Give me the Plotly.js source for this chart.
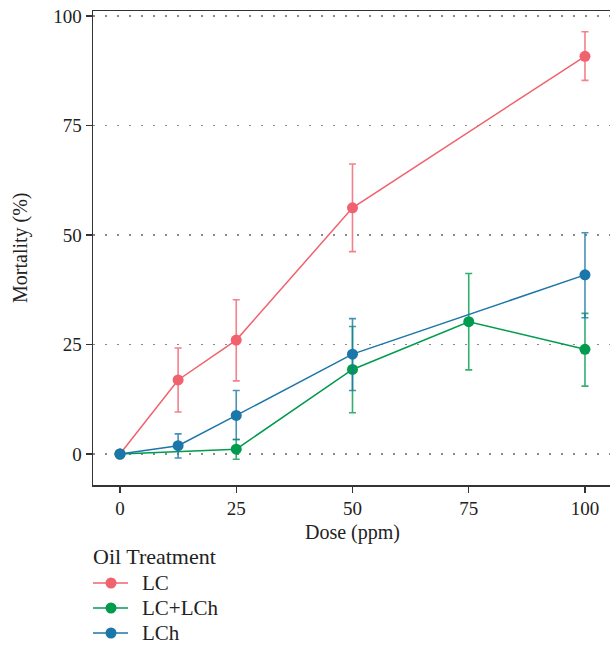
<!DOCTYPE html>
<html>
<head>
<meta charset="utf-8">
<script src="https://cdn.plot.ly/plotly-3.0.1.min.js"></script>
<style>
  html, body { margin: 0; padding: 0; background: #fff; }
  #chart { width: 610px; height: 648px; }
</style>
</head>
<body>
<div id="chart"></div>
<script>
// Mortality (%) by dose (ppm) for each oil treatment, mean with error range
const seriesNames = ["LC", "LC+LCh", "LCh"];
const seriesColors = ["#F0626E", "#009B4E", "#1B76A9"];
const legendTitle = "Oil Treatment";

const doseLC = [0, 12.5, 25, 50, 100];
const mortLC = [0, 16.9, 26.0, 56.2, 90.8];
const errUpLC = [0, 7.3, 9.2, 10.0, 5.6];
const errDownLC = [0, 7.3, 9.3, 10.0, 5.5];

const doseMix = [0, 25, 50, 75, 100];
const mortMix = [0, 1.1, 19.3, 30.2, 23.9];
const errUpMix = [0, 2.2, 9.8, 11.0, 8.2];
const errDownMix = [0, 2.3, 9.9, 11.0, 8.4];

const doseLCh = [0, 12.5, 25, 50, 100];
const mortLCh = [0, 1.9, 8.8, 22.8, 40.9];
const errUpLCh = [0, 2.7, 5.7, 8.1, 9.6];
const errDownLCh = [0, 2.8, 5.5, 8.3, 9.8];

const xTickVals = [0, 25, 50, 75, 100];
const yTickVals = [0, 25, 50, 75, 100];

const FONT = "Liberation Serif, Times New Roman, serif";
const TEXT = "#222";

// plot area geometry in pixels (used to place the key below the panel)
const PLOT_L = 93, PLOT_W = 517, PLOT_T = 11, PLOT_H = 474;
const px2x = px => (px - PLOT_L) / PLOT_W;
const px2y = py => (PLOT_T + PLOT_H - py) / PLOT_H;

function fade(hex, a) {
  const n = parseInt(hex.slice(1), 16);
  return `rgba(${(n >> 16) & 255},${(n >> 8) & 255},${n & 255},${a})`;
}

function makeTrace(name, color, x, y, up, down) {
  return {
    type: "scatter",
    mode: "lines+markers",
    name: name,
    x: x,
    y: y,
    line: { color: color, width: 1.5 },
    marker: { color: color, size: 11 },
    error_y: {
      type: "data",
      symmetric: false,
      array: up,
      arrayminus: down,
      color: fade(color, 0.8),
      thickness: 1.6,
      width: 3.5
    }
  };
}

const data = [
  makeTrace(seriesNames[0], seriesColors[0], doseLC, mortLC, errUpLC, errDownLC),
  makeTrace(seriesNames[1], seriesColors[1], doseMix, mortMix, errUpMix, errDownMix),
  makeTrace(seriesNames[2], seriesColors[2], doseLCh, mortLCh, errUpLCh, errDownLCh)
];

// key below the panel: title, then a line-and-dot sample with its label per series
const annotations = [
  {
    text: "Mortality (%)", xref: "paper", yref: "paper",
    x: px2x(20), y: 0.5, xanchor: "center", yanchor: "middle",
    textangle: -90, showarrow: false,
    font: { family: FONT, size: 20, color: TEXT }
  },
  {
    text: "Dose (ppm)", xref: "paper", yref: "paper",
    x: px2x(352), y: px2y(532), xanchor: "center", yanchor: "middle",
    showarrow: false,
    font: { family: FONT, size: 20, color: TEXT }
  },
  {
    text: legendTitle, xref: "paper", yref: "paper",
    x: px2x(91), y: px2y(556), xanchor: "left", yanchor: "middle",
    showarrow: false,
    font: { family: FONT, size: 22, color: TEXT }
  }
];
const shapes = [];
const keyRows = [583, 608, 633];
seriesNames.forEach((name, i) => {
  const yk = px2y(keyRows[i]);
  shapes.push({
    type: "line", xref: "paper", yref: "paper",
    x0: px2x(93), x1: px2x(128), y0: yk, y1: yk,
    line: { color: seriesColors[i], width: 1.5 }
  });
  shapes.push({
    type: "circle", xref: "paper", yref: "paper",
    xsizemode: "pixel", ysizemode: "pixel",
    xanchor: px2x(111), yanchor: yk,
    x0: -5.5, x1: 5.5, y0: -5.5, y1: 5.5,
    fillcolor: seriesColors[i], line: { width: 0 }
  });
  annotations.push({
    text: name, xref: "paper", yref: "paper",
    x: px2x(140), y: yk, xanchor: "left", yanchor: "middle",
    showarrow: false,
    font: { family: FONT, size: 21, color: TEXT }
  });
});

const layout = {
  width: 610,
  height: 648,
  margin: { l: PLOT_L, r: 610 - PLOT_L - PLOT_W, t: PLOT_T, b: 648 - PLOT_T - PLOT_H, autoexpand: false },
  paper_bgcolor: "#ffffff",
  plot_bgcolor: "#ffffff",
  font: { family: FONT, size: 19, color: TEXT },
  showlegend: false,
  annotations: annotations,
  shapes: shapes,
  xaxis: {
    range: [-5.806, 105.38],
    tickvals: xTickVals,
    ticktext: xTickVals.map(String),
    ticks: "outside",
    ticklen: 6,
    tickwidth: 1.3,
    tickcolor: "#333",
    showline: true,
    mirror: true,
    linecolor: "#333",
    linewidth: 1.5,
    showgrid: false,
    zeroline: false,
    automargin: false,
    tickfont: { family: FONT, size: 19, color: TEXT }
  },
  yaxis: {
    range: [-7.08, 101.14],
    tickvals: yTickVals,
    ticktext: yTickVals.map(String),
    ticks: "outside",
    ticklen: 6,
    tickwidth: 1.3,
    tickcolor: "#333",
    showline: true,
    mirror: false,
    linecolor: "#333",
    linewidth: 1.5,
    showgrid: true,
    gridcolor: "#8a8a8a",
    gridwidth: 1.5,
    griddash: "1.5px,10.5px",
    zeroline: false,
    automargin: false,
    tickfont: { family: FONT, size: 19, color: TEXT }
  }
};

Plotly.newPlot("chart", data, layout, { displayModeBar: false, staticPlot: true });
</script>
</body>
</html>
